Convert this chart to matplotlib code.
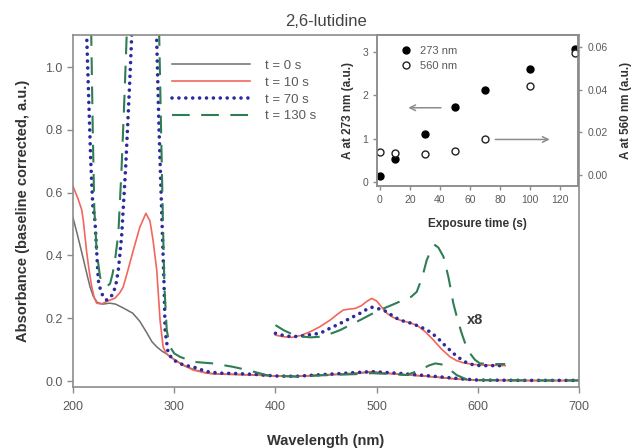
import matplotlib.pyplot as plt

plt.rcParams['font.family'] = ['Liberation Sans', 'DejaVu Sans']

# UV-vis spectra, full range (absorbance, baseline corrected)
wl_0 = [200, 204, 208.6, 213, 216.8, 220, 224, 230, 236, 242, 250, 259, 266, 273,
        278, 283, 288, 293, 300, 310, 320, 330, 340, 360, 380, 400, 420, 444, 470,
        495, 520, 550, 580, 600, 650, 700]
abs_0 = [0.52, 0.47, 0.41, 0.35, 0.30, 0.27, 0.25, 0.245, 0.248, 0.245, 0.232, 0.216,
         0.19, 0.153, 0.125, 0.108, 0.095, 0.085, 0.068, 0.048, 0.036, 0.027, 0.022,
         0.021, 0.019, 0.016, 0.015, 0.018, 0.022, 0.028, 0.022, 0.015, 0.006, 0.003,
         0.002, 0.002]

wl_10 = [200, 205, 208.6, 210.2, 213.5, 216, 218.5, 221, 223.4, 228, 233, 241.5, 246,
         249.6, 254, 259, 266, 272, 276, 279, 282.7, 286, 289, 292, 296, 305.7, 318.6,
         332, 345, 360, 380, 400, 420, 444, 470, 495, 520, 550, 580, 600, 650, 700]
abs_10 = [0.62, 0.58, 0.545, 0.51, 0.41, 0.35, 0.30, 0.265, 0.248, 0.245, 0.253, 0.264,
          0.28, 0.30, 0.35, 0.41, 0.49, 0.534, 0.51, 0.45, 0.354, 0.194, 0.109, 0.088,
          0.077, 0.057, 0.035, 0.025, 0.022, 0.021, 0.019, 0.016, 0.015, 0.019, 0.023,
          0.03, 0.022, 0.015, 0.006, 0.002, 0.001, 0.001]

wl_70 = [200, 207, 211, 213.5, 215.5, 217.5, 219.5, 221.7, 223.4, 225, 227.5, 230, 233.3,
         236.5, 239.8, 242.5, 244.8, 248, 252, 256, 258, 262, 268, 273, 278, 281, 282.7,
         285, 287, 289, 290, 291, 294, 299, 309, 318.6, 332, 345, 360, 380, 400, 420,
         444, 470, 495, 520, 550, 580, 600, 650, 700]
abs_70 = [2.2, 1.8, 1.4, 1.1, 0.9, 0.7, 0.56, 0.51, 0.41, 0.32, 0.285, 0.268, 0.258,
          0.265, 0.279, 0.31, 0.354, 0.46, 0.68, 0.95, 1.1, 1.5, 1.95, 2.11, 1.8, 1.3,
          1.086, 0.8, 0.6, 0.40, 0.30, 0.16, 0.089, 0.067, 0.051, 0.045, 0.03, 0.025,
          0.024, 0.021, 0.016, 0.015, 0.02, 0.025, 0.03, 0.025, 0.017, 0.008, 0.003,
          0.002, 0.002]

wl_130 = [200, 207, 213, 216, 218, 219.5, 221, 223.4, 226.7, 229, 231.6, 234, 236.6,
          239, 241.5, 244.8, 248, 251, 253, 258, 265, 273, 279, 283, 285.3, 287, 289,
          290.3, 292.6, 295.8, 300, 305.7, 318.9, 338.6, 358.4, 368, 378, 391, 400, 420,
          444, 480, 495, 515, 529.6, 543, 552, 558, 564, 569, 574, 579, 589, 600, 650, 700]
abs_130 = [3.0, 2.4, 1.7, 1.3, 1.1, 0.8, 0.55, 0.41, 0.332, 0.31, 0.303, 0.303, 0.31,
           0.34, 0.385, 0.47, 0.68, 0.92, 1.1, 1.7, 2.6, 3.07, 2.6, 1.5, 1.075, 0.8, 0.48,
           0.30, 0.162, 0.109, 0.088, 0.077, 0.061, 0.056, 0.045, 0.038, 0.03, 0.019,
           0.016, 0.014, 0.018, 0.022, 0.025, 0.022, 0.019, 0.035, 0.05, 0.056, 0.053,
           0.046, 0.032, 0.019, 0.005, 0.003, 0.002, 0.002]

# visible band shown magnified x8
wl_10_x8 = [400, 408, 416, 425, 435, 444, 454, 461, 467, 473, 478.7, 485, 490, 495, 500,
            505, 510, 516, 523, 531, 539.6, 548, 556, 564, 572.5, 579, 585.7, 595, 602,
            615, 627]
abs_10_x8 = [0.146, 0.141, 0.139, 0.145, 0.158, 0.173, 0.194, 0.212, 0.226, 0.229, 0.231,
             0.24, 0.253, 0.263, 0.255, 0.235, 0.216, 0.203, 0.194, 0.187, 0.178, 0.157,
             0.131, 0.102, 0.077, 0.065, 0.058, 0.053, 0.051, 0.05, 0.049]

wl_70_x8 = [400, 408, 416, 425, 435, 444, 452, 460.5, 468, 477, 485, 490, 495, 502, 510,
            516, 523, 533, 543, 551, 559, 567, 575.8, 583, 589, 595, 602, 615, 627]
abs_70_x8 = [0.152, 0.145, 0.141, 0.143, 0.148, 0.152, 0.165, 0.178, 0.19, 0.205, 0.218,
             0.228, 0.235, 0.23, 0.221, 0.207, 0.194, 0.185, 0.173, 0.16, 0.141, 0.115,
             0.088, 0.07, 0.058, 0.052, 0.049, 0.049, 0.049]

wl_130_x8 = [400, 408, 416, 425, 435, 444, 454, 463.8, 473, 483.6, 493, 503, 515, 526.4,
             534, 539.6, 545, 549.5, 554, 557.7, 561, 566, 571, 575.8, 580, 584, 588,
             592.3, 597, 602, 615, 627]
abs_130_x8 = [0.178, 0.162, 0.15, 0.142, 0.139, 0.141, 0.15, 0.162, 0.177, 0.194, 0.21,
              0.226, 0.242, 0.258, 0.268, 0.284, 0.33, 0.385, 0.42, 0.433, 0.425, 0.396,
              0.33, 0.247, 0.195, 0.152, 0.115, 0.088, 0.068, 0.056, 0.054, 0.054]

labels = ["t = 0 s", "t = 10 s", "t = 70 s", "t = 130 s"]

# inset: band intensity vs exposure time
exposure_s = [0, 10, 30, 50, 70, 100, 130]
abs_273 = [0.15, 0.53, 1.10, 1.73, 2.11, 2.60, 3.07]
abs_560 = [0.0106, 0.0104, 0.0098, 0.0113, 0.0167, 0.0419, 0.0569]

tick_col = "#5a5a5a"
spine_col = "#8c8c8c"

styles = [
    dict(color="#6e6e6e", lw=1.1, ls="-"),
    dict(color="#f2665c", lw=1.2, ls="-"),
    dict(color="#2b2b9e", lw=2.6, ls=(0, (0.01, 1.9)), dash_capstyle="round"),
    dict(color="#2f7d52", lw=1.5, ls=(0, (8.5, 5.5))),
]

fig = plt.figure(figsize=(6.35, 4.48), dpi=100)
ax = fig.add_axes([0.115, 0.1362, 0.7969, 0.7857])

full = [(wl_0, abs_0), (wl_10, abs_10), (wl_70, abs_70), (wl_130, abs_130)]
mag = [None, (wl_10_x8, abs_10_x8), (wl_70_x8, abs_70_x8), (wl_130_x8, abs_130_x8)]

for (x, y), m, lab, st in zip(full, mag, labels, styles):
    ax.plot(x, y, label=lab, **st)
    if m is not None:
        ax.plot(m[0], m[1], **st)

ax.text(597, 0.194, "x8", fontsize=10.5, fontweight="bold", color="#3a3a3a",
        ha="center", va="center")

ax.set_xlim(200, 700)
ax.set_ylim(-0.019, 1.102)
ax.set_xticks([200, 300, 400, 500, 600, 700])
ax.set_yticks([0.0, 0.2, 0.4, 0.6, 0.8, 1.0])
ax.yaxis.set_major_formatter(plt.FormatStrFormatter("%.1f"))
ax.tick_params(direction="out", length=4, width=1, color=spine_col,
               labelcolor=tick_col, labelsize=9)
ax.tick_params(axis="x", pad=6)
for sp in ax.spines.values():
    sp.set_color(spine_col)
    sp.set_linewidth(1.2)

ax.set_xlabel("Wavelength (nm)", fontsize=10.5, fontweight="bold", color="#333333",
              labelpad=15)
ax.set_ylabel("Absorbance (baseline corrected, a.u.)", fontsize=10.5,
              fontweight="bold", color="#333333", labelpad=11)
fig.text(0.513, 0.953, "2,6-lutidine", fontsize=12, color="#444444",
         ha="center", va="center")

ax.legend(loc="upper left", bbox_to_anchor=(0.196, 0.93), frameon=False,
          fontsize=9.5, handlelength=5.9, handletextpad=1.1, labelspacing=0.35,
          borderpad=0, borderaxespad=0, labelcolor=tick_col)

# inset
ins = fig.add_axes([0.5937, 0.5848, 0.317, 0.337])
ins.set_facecolor("white")
ins.plot(exposure_s, abs_273, "o", ms=5, mfc="black", mec="black", label="273 nm")
ins.set_xlim(-2, 132.2)
ins.set_ylim(-0.092, 3.385)
ins.set_xticks([0, 20, 40, 60, 80, 100, 120])
ins.set_yticks([0, 1, 2, 3])

ins2 = ins.twinx()
ins2.plot(exposure_s, abs_560, "o", ms=5, mfc="white", mec="#222222", mew=1,
          label="560 nm")
ins2.set_ylim(-0.0051, 0.0655)
ins2.set_yticks([0.0, 0.02, 0.04, 0.06])
ins2.yaxis.set_major_formatter(plt.FormatStrFormatter("%.2f"))

for a in (ins, ins2):
    a.tick_params(direction="out", length=3, width=1, color=spine_col,
                  labelcolor=tick_col, labelsize=7.5)
    for sp in a.spines.values():
        sp.set_color(spine_col)
        sp.set_linewidth(1.1)

ins.set_xlabel("Exposure time (s)", fontsize=8.5, fontweight="bold",
               color="#333333", labelpad=9)
ins.set_ylabel("A at 273 nm (a.u.)", fontsize=8.5, fontweight="bold",
               color="#333333", labelpad=6)
ins2.set_ylabel("A at 560 nm (a.u.)", fontsize=8.5, fontweight="bold",
                color="#333333", labelpad=9)

arrow = dict(arrowstyle="->", color="#8c8c8c", lw=1.1)
ins.annotate("", xy=(17, 1.71), xytext=(42.5, 1.71), arrowprops=arrow)
ins.annotate("", xy=(115, 0.98), xytext=(75, 0.98), arrowprops=arrow)

h1, l1 = ins.get_legend_handles_labels()
h2, l2 = ins2.get_legend_handles_labels()
ins2.legend(h1 + h2, l1 + l2, loc="upper left", bbox_to_anchor=(0.115, 0.93),
            frameon=False, fontsize=8, handlelength=1.0, handletextpad=0.8,
            labelspacing=0.45, borderpad=0, borderaxespad=0, labelcolor=tick_col)

fig.savefig("out.png", dpi=100)
